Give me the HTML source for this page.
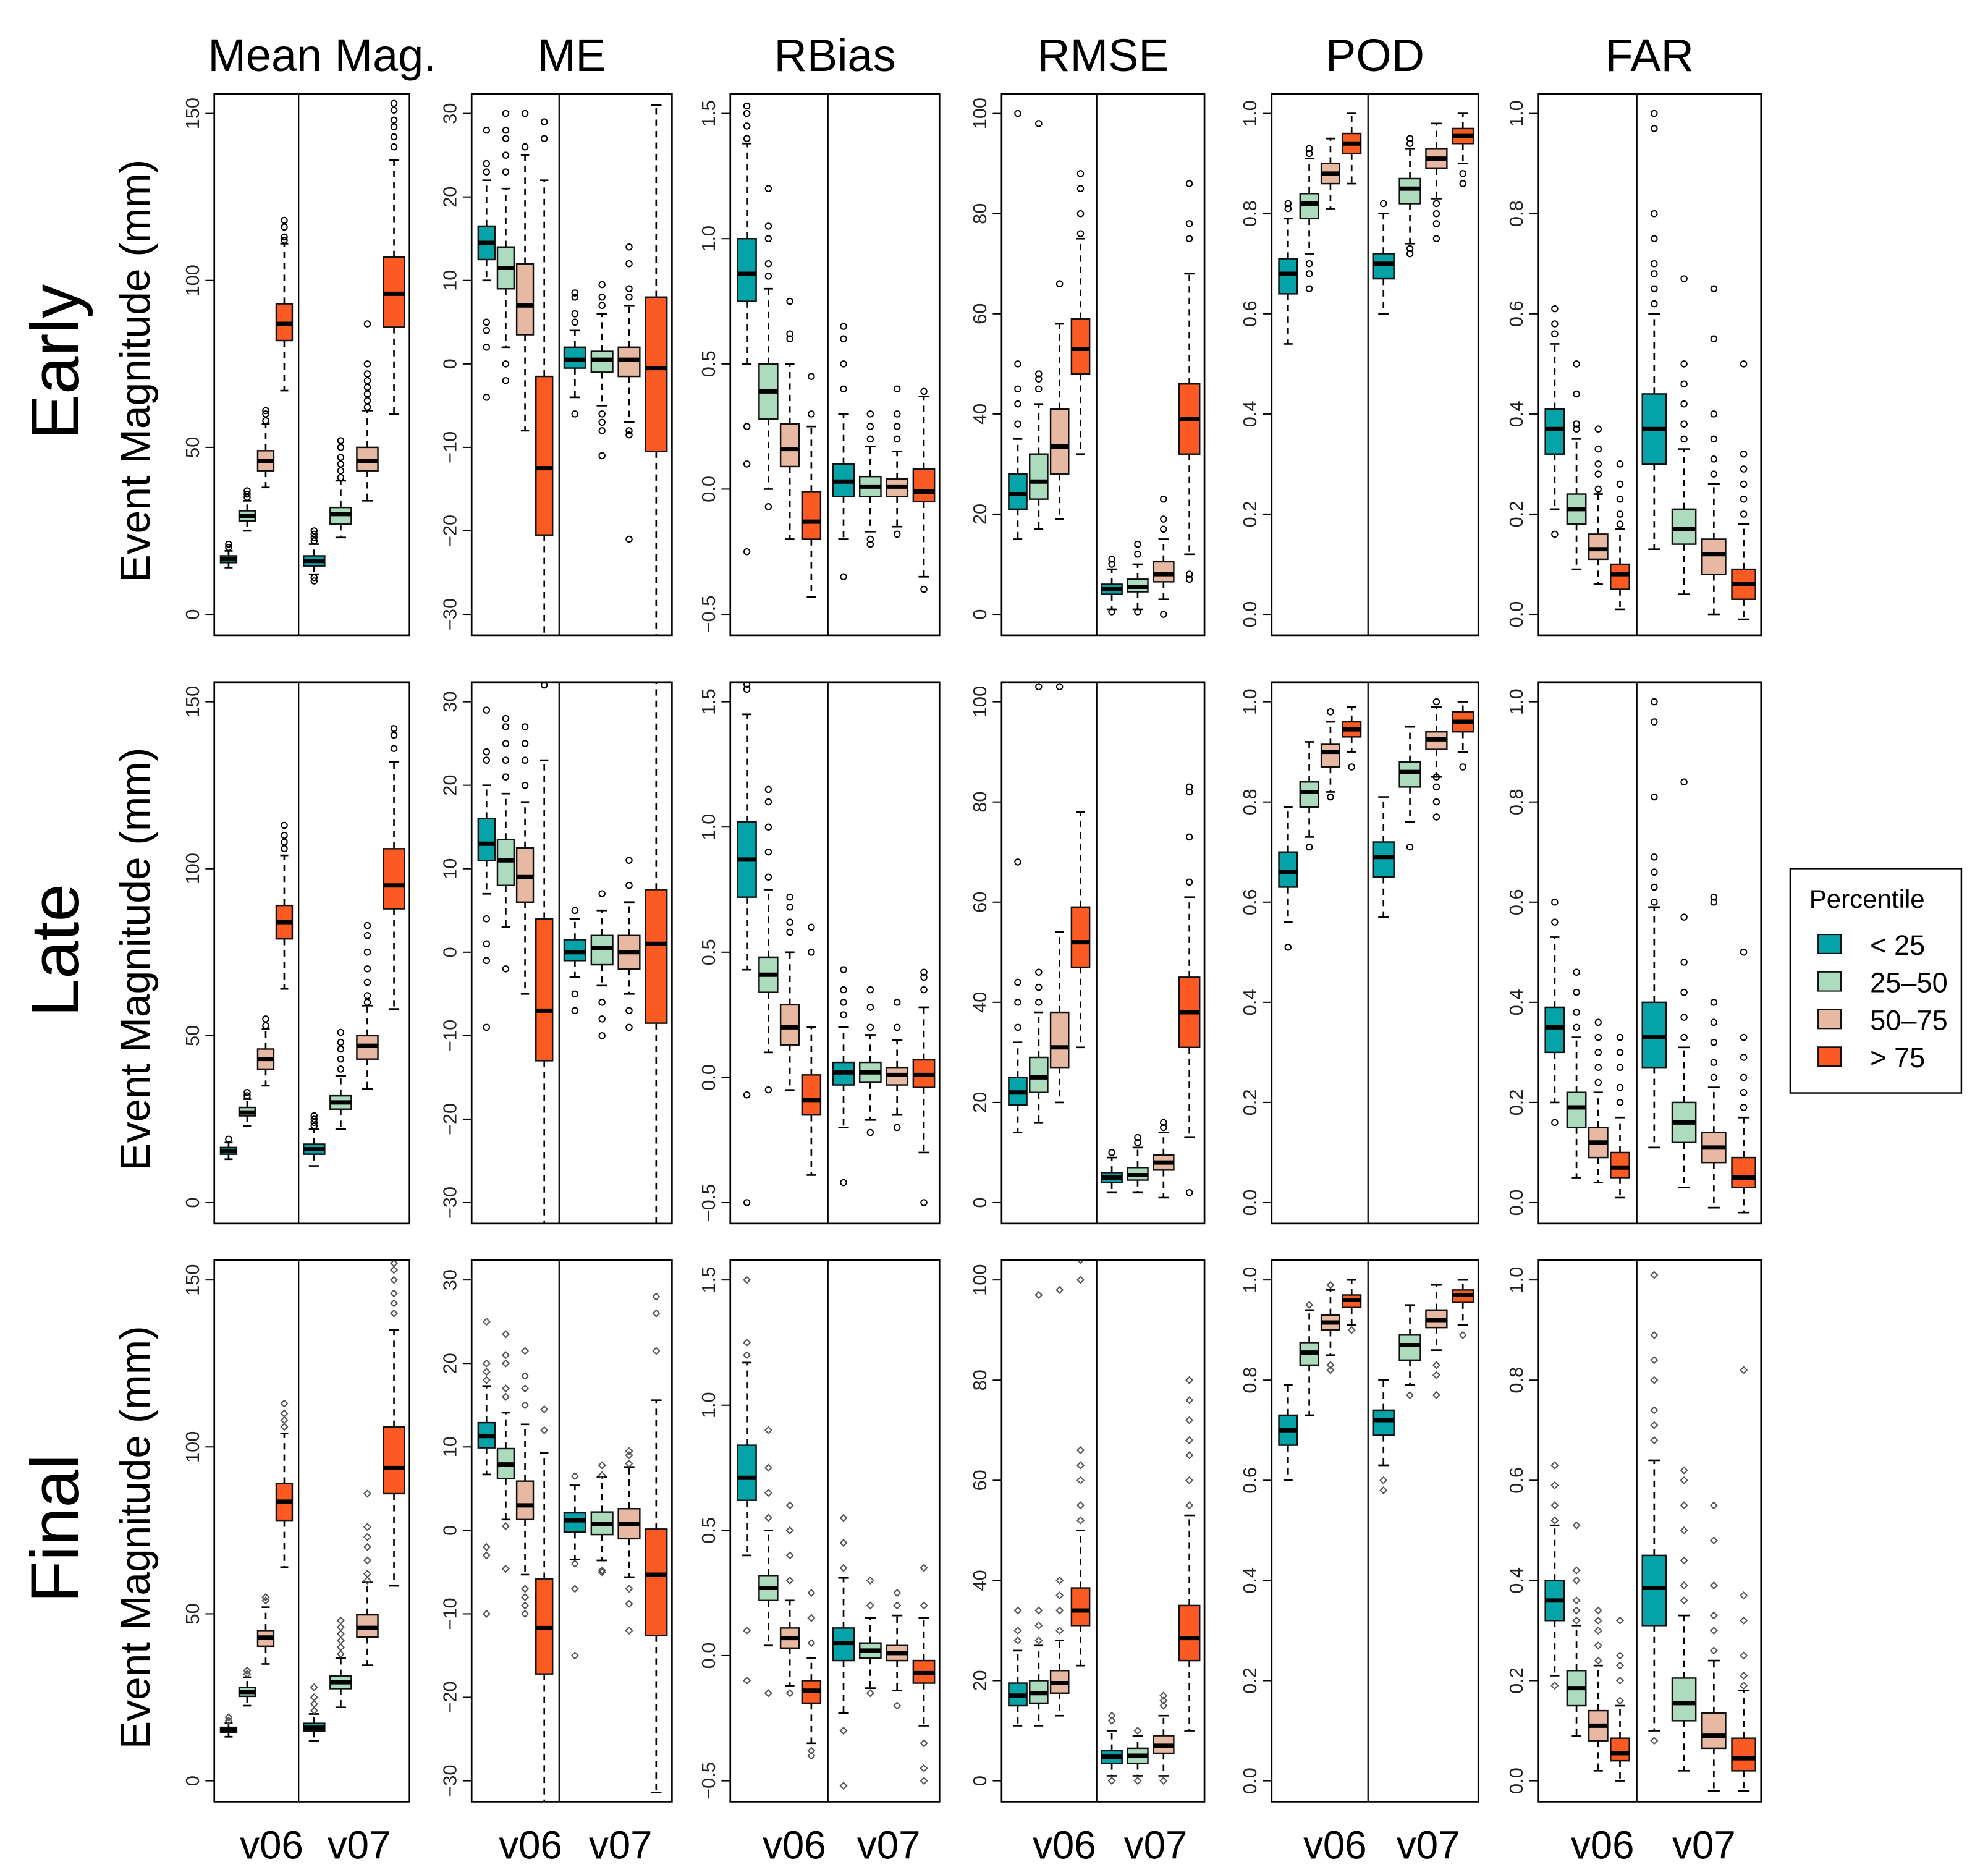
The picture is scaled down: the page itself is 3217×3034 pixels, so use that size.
<!DOCTYPE html>
<html><head><meta charset="utf-8">
<style>
html,body{margin:0;padding:0;background:#fff;}
svg{display:block;font-family:"Liberation Sans",Arial,sans-serif;}
</style></head>
<body>
<svg id="fig" xmlns="http://www.w3.org/2000/svg" width="3217" height="3034" viewBox="0 0 1568 1478.8" preserveAspectRatio="none"></svg>
<script>
// ---- data: [lowWhisker, q1, median, q3, highWhisker] per box (teal,green,peach,orange) x (v06,v07)
const categories = ["< 25","25\u201350","50\u201375","> 75"];
const versions = ["v06","v07"];
const metrics = ["Mean Mag.","ME","RBias","RMSE","POD","FAR"];
const rowsNames = ["Early","Late","Final"];
const tickMeanMag = [0,50,100,150];
const tickME = [-30,-20,-10,0,10,20,30];
const tickRBias = [-0.5,0,0.5,1,1.5];
const tickRMSE = [0,20,40,60,80,100];
const tickFrac = [0,0.2,0.4,0.6,0.8,1.0];

// Early
const earlyMeanMag = [[14,15.5,16.5,17.5,19],[25,28,29.5,31,34],[38,43,46,49,57],[67,82,87,93,111],[12,14.5,16,17.5,21],[23,27,30,32,40],[34,43,46,50,61],[60,86,96,107,136]];
const earlyMeanMagOut = [[20,21],[35,36,37],[58,60,61],[112,113,116,118],[10,11,22,23,24,25],[41,43,45,47,50,52],[62,64,66,68,70,72,75,87],[140,143,146,148,151,153]];
const earlyME = [[10,12.5,14.5,16.5,22],[2,9,11.5,14,21],[-8,3.5,7,12,25],[-35,-20.5,-12.5,-1.5,22],[-4,-0.5,0.5,2,4],[-5,-1,0.5,1.5,6],[-7,-1.5,0.5,2,7],[-35,-10.5,-0.5,8,31]];
const earlyMEOut = [[23,24,28,4,5,2,-4],[23,25,27,28,30,0,-2],[26,30],[27,29],[5,6,8,8.5,-6],[7,8,9.5,-6,-7,-8,-11],[8,9,12,14,-8,-8.5,-21],[]];
const earlyRBias = [[0.5,0.75,0.86,1.0,1.38],[0.0,0.28,0.39,0.5,0.8],[-0.2,0.09,0.16,0.26,0.5],[-0.43,-0.2,-0.13,-0.01,0.25],[-0.2,-0.03,0.03,0.1,0.3],[-0.17,-0.03,0.01,0.05,0.17],[-0.15,-0.03,0.01,0.04,0.15],[-0.35,-0.05,-0.01,0.08,0.37]];
const earlyRBiasOut = [[1.4,1.45,1.5,1.53,0.1,0.25,-0.25],[0.85,0.9,1.0,1.05,1.2,-0.07],[0.6,0.62,0.75],[0.3,0.45],[0.4,0.5,0.6,0.65,-0.35],[0.2,0.25,0.3,-0.2,-0.22],[0.2,0.25,0.3,0.4,-0.18],[0.39,-0.4]];
const earlyRMSE = [[15,21,24,28,35],[17,23,26.5,32,42],[19,28,33.5,41,58],[32,48,53,59,75],[1,4,5,6,9],[1,4.5,5.5,7,10],[3,6.5,8,10.5,15],[12,32,39,46,68]];
const earlyRMSEOut = [[38,42,45,50,100],[45,47,48,98],[66],[76,80,85,88],[10,11,0.5],[12,14,0.5],[17,19,23,0],[75,78,86,7,8]];
const earlyPOD = [[0.54,0.64,0.68,0.71,0.79],[0.72,0.79,0.82,0.84,0.91],[0.81,0.86,0.88,0.9,0.95],[0.86,0.92,0.94,0.96,1.0],[0.6,0.67,0.7,0.72,0.8],[0.74,0.82,0.85,0.87,0.93],[0.83,0.89,0.91,0.93,0.98],[0.9,0.94,0.955,0.97,1.0]];
const earlyPODOut = [[0.81,0.82],[0.65,0.68,0.7,0.92,0.93],[],[],[0.82],[0.94,0.95,0.73,0.72],[0.75,0.78,0.8,0.82],[0.86,0.88]];
const earlyFAR = [[0.21,0.32,0.37,0.41,0.54],[0.09,0.18,0.21,0.24,0.35],[0.06,0.11,0.13,0.16,0.24],[0.01,0.05,0.08,0.1,0.17],[0.13,0.3,0.37,0.44,0.6],[0.04,0.14,0.17,0.21,0.33],[0.0,0.08,0.12,0.15,0.26],[-0.01,0.03,0.06,0.09,0.18]];
const earlyFAROut = [[0.56,0.58,0.61,0.16],[0.37,0.38,0.44,0.5],[0.25,0.28,0.3,0.33,0.37],[0.18,0.2,0.23,0.26,0.3],[0.62,0.65,0.68,0.7,0.75,0.8,0.97,1.0],[0.35,0.38,0.42,0.46,0.5,0.67],[0.28,0.31,0.35,0.4,0.55,0.65],[0.2,0.23,0.26,0.29,0.32,0.5]];

// Late
const lateMeanMag = [[13,14.5,15.5,16.5,18],[23,26,27,28.5,31],[35,40,43,46,52],[64,79,84,89,104],[11,14.5,16,17.5,22],[22,28,30,32,38],[34,43,47,50,59],[58,88,95,106,132]];
const lateMeanMagOut = [[19],[32,33],[53,55],[106,108,110,113],[23,24,25,26],[40,43,46,48,51],[60,62,66,70,75,80,83],[136,140,142]];
const lateME = [[7,11,13,16,20],[3,8,11,13.5,19],[-5,6,9,12.5,18],[-35,-13,-7,4,23],[-3,-1,0,1.5,4],[-4,-1.5,0.5,2,5],[-5,-2,0,2,6],[-35,-8.5,1,7.5,33]];
const lateMEOut = [[23,24,29,4,1,-1,-9],[21,23,25,27,28,-2],[20,23,25,27],[32],[5,-5,-7],[7,-6,-8,-10],[8,11,-7,-9],[]];
const lateRBias = [[0.43,0.72,0.87,1.02,1.45],[0.1,0.34,0.41,0.48,0.75],[-0.05,0.13,0.2,0.29,0.5],[-0.39,-0.15,-0.09,0.01,0.2],[-0.2,-0.03,0.02,0.06,0.2],[-0.17,-0.02,0.02,0.06,0.17],[-0.15,-0.03,0.01,0.04,0.15],[-0.3,-0.04,0.01,0.07,0.28]];
const lateRBiasOut = [[1.55,1.57,-0.07,-0.5],[0.8,0.9,1.0,1.1,1.15,-0.05],[0.58,0.62,0.68,0.72],[0.5,0.6],[0.25,0.3,0.35,0.43,-0.42],[0.2,0.28,0.35,-0.22],[0.2,0.3,-0.2],[0.35,0.4,0.42,-0.5]];
const lateRMSE = [[14,19.5,22,25,32],[16,22,25,29,38],[20,27,31,38,54],[31,47,52,59,78],[2,4,5,6,9],[2,4.5,5.5,7,11],[1,6.5,8,9.5,14],[13,31,38,45,61]];
const lateRMSEOut = [[35,40,44,68],[40,43,46,103],[103],[],[10],[12,13],[15,16],[64,73,82,83,2]];
const latePOD = [[0.56,0.63,0.66,0.7,0.79],[0.73,0.79,0.82,0.84,0.92],[0.82,0.87,0.9,0.915,0.96],[0.9,0.93,0.945,0.96,0.99],[0.57,0.65,0.69,0.72,0.81],[0.76,0.83,0.86,0.88,0.95],[0.85,0.905,0.925,0.94,0.99],[0.9,0.94,0.96,0.98,1.0]];
const latePODOut = [[0.51],[0.71],[0.98,0.81],[0.87],[],[0.71],[0.77,0.8,0.83,0.85,1.0],[0.87]];
const lateFAR = [[0.2,0.3,0.35,0.39,0.53],[0.05,0.15,0.19,0.22,0.33],[0.04,0.09,0.12,0.15,0.22],[0.01,0.05,0.07,0.1,0.17],[0.11,0.27,0.33,0.4,0.59],[0.03,0.12,0.16,0.2,0.31],[-0.01,0.08,0.11,0.14,0.23],[-0.02,0.03,0.05,0.09,0.17]];
const lateFAROut = [[0.56,0.6,0.16],[0.35,0.38,0.42,0.46],[0.24,0.27,0.3,0.33,0.36],[0.2,0.23,0.27,0.3,0.33],[0.6,0.63,0.66,0.69,0.81,0.96,1.0],[0.33,0.37,0.42,0.48,0.57,0.84],[0.25,0.28,0.32,0.36,0.4,0.6,0.61],[0.19,0.22,0.25,0.29,0.33,0.5]];

// Final
const finalMeanMag = [[13.2,14.5,15.3,16,17.3],[22.5,25.3,26.6,28,31],[35,40.3,42.9,45,52],[64,78,83.6,89,104],[12,14.9,15.9,17.2,20],[22,27.6,29.5,31.4,36.8],[34.6,43,45.8,49.7,59.4],[58.4,86,93.7,106,135]];
const finalMeanMagOut = [[18,19],[32,33],[54,55],[106,108,110,113],[21,23,25,28],[38,40,42,44,46,48],[60,62,66,70,73,76,86],[140,143,146,150,153,155]];
const finalME = [[6.7,9.9,11.3,12.9,17.3],[1.3,6.2,7.9,9.8,14.1],[-5.3,1.3,3,5.9,12.7],[-35,-17.2,-11.7,-5.8,9.3],[-3.5,-0.2,1.2,2.1,5.4],[-3.6,-0.5,0.8,2.2,6.4],[-5.6,-1,0.8,2.6,7.6],[-31.4,-12.6,-5.3,0.15,15.6]];
const finalMEOut = [[18,19,20,25,-2,-3,-10],[16,17,20,21,23.5,0.5,-4.6],[15,17,18.5,21.5,-7,-8,-9,-10],[12,14.5],[6.5,-4,-7,-15],[6.6,7.8,-4.8,-5],[8,9,9.5,-7,-8.8,-12],[21.5,26,28]];
const finalRBias = [[0.4,0.62,0.71,0.84,1.17],[0.04,0.22,0.27,0.32,0.5],[-0.12,0.03,0.07,0.11,0.22],[-0.35,-0.19,-0.14,-0.1,-0.01],[-0.23,-0.02,0.05,0.11,0.31],[-0.13,-0.01,0.02,0.05,0.15],[-0.14,-0.02,0.01,0.04,0.16],[-0.28,-0.11,-0.07,-0.02,0.15]];
const finalRBiasOut = [[1.2,1.25,1.5,0.1,-0.1],[0.55,0.65,0.75,0.9,-0.15],[0.3,0.4,0.5,0.6,-0.15],[0.05,0.15,0.25,-0.38,-0.4],[0.35,0.45,0.55,-0.3,-0.52],[0.2,0.3,-0.15],[0.2,0.25,-0.2],[0.2,0.35,-0.35,-0.45,-0.5]];
const finalRMSE = [[11,15,17,19.5,26],[11,15.5,17.5,20,27],[13,17.5,19.5,22,28],[23,31,34,38.5,50],[1,3.5,4.8,6,10],[1,3.5,5,6.5,9],[1,5.5,7,9,13],[10,24,28.5,35,53]];
const finalRMSEOut = [[28,30,34],[28,31,34,97],[30,34,37,40,98],[52,55,60,63,66,100,104],[12,13,0],[10,0],[15,16,17,0],[55,60,65,68,72,76,80]];
const finalPOD = [[0.6,0.67,0.7,0.73,0.79],[0.73,0.83,0.855,0.875,0.94],[0.85,0.9,0.915,0.93,0.98],[0.91,0.945,0.96,0.97,1.0],[0.63,0.69,0.72,0.74,0.8],[0.79,0.84,0.87,0.89,0.95],[0.86,0.905,0.92,0.94,0.99],[0.91,0.955,0.97,0.98,1.0]];
const finalPODOut = [[],[0.95],[0.99,0.82,0.83],[0.9],[0.6,0.58],[0.77],[0.83,0.81,0.77],[0.89]];
const finalFAR = [[0.21,0.32,0.36,0.4,0.51],[0.09,0.15,0.185,0.22,0.31],[0.02,0.08,0.11,0.14,0.23],[0.0,0.04,0.055,0.085,0.15],[0.1,0.31,0.385,0.45,0.64],[0.02,0.12,0.155,0.205,0.33],[-0.02,0.065,0.09,0.135,0.24],[-0.02,0.02,0.045,0.085,0.18]];
const finalFAROut = [[0.52,0.55,0.59,0.63,0.19],[0.32,0.34,0.36,0.4,0.42,0.51],[0.24,0.27,0.3,0.32,0.34],[0.16,0.2,0.23,0.25,0.32],[0.68,0.71,0.74,0.8,0.84,0.89,1.01,0.08],[0.36,0.39,0.44,0.5,0.55,0.6,0.62],[0.26,0.3,0.33,0.39,0.48,0.55],[0.19,0.21,0.25,0.32,0.37,0.82]];

const fills = ["#04a3a7","#acdbbd","#e8b9a2","#fb5b22"];
const NS = "http://www.w3.org/2000/svg";
const svg = document.getElementById("fig");
function mk(tag, attrs, parent){ const e=document.createElementNS(NS,tag); for(const k in attrs) e.setAttribute(k,attrs[k]); (parent||svg).appendChild(e); return e; }

const colsX = [[169,235.5,323],[372,441,530],[576,653,741],[790,865,950],[1003,1079,1166],[1213,1291,1389]];
const rowsT = [74,538,994];
const PH = 427;
const ticks = [tickMeanMag,tickME,tickRBias,tickRMSE,tickFrac,tickFrac];
const tickFmt = [v=>String(v), v=>(v<0?"\u2212"+(-v):String(v)), v=>(v<0?"\u2212":"")+Math.abs(v).toFixed(1), v=>String(v), v=>v.toFixed(1), v=>v.toFixed(1)];
const data = [
 [earlyMeanMag,earlyME,earlyRBias,earlyRMSE,earlyPOD,earlyFAR],
 [lateMeanMag,lateME,lateRBias,lateRMSE,latePOD,lateFAR],
 [finalMeanMag,finalME,finalRBias,finalRMSE,finalPOD,finalFAR]];
const outs = [
 [earlyMeanMagOut,earlyMEOut,earlyRBiasOut,earlyRMSEOut,earlyPODOut,earlyFAROut],
 [lateMeanMagOut,lateMEOut,lateRBiasOut,lateRMSEOut,latePODOut,lateFAROut],
 [finalMeanMagOut,finalMEOut,finalRBiasOut,finalRMSEOut,finalPODOut,finalFAROut]];

// column titles
metrics.forEach((m,c)=>{
  const [L,D,R]=colsX[c];
  const t=mk("text",{x:(L+R)/2+(c===0?8:0),y:56,"font-size":36,"text-anchor":"middle",fill:"#000"});
  
  
  t.textContent=m;
});
// row labels and y titles
rowsNames.forEach((r,ri)=>{
  const T=rowsT[ri], cy=T+PH/2;
  const t=mk("text",{x:0,y:0,"font-size":54,"text-anchor":"middle",transform:`translate(62,${cy-2}) rotate(-90)`,fill:"#000"});
  
  
  t.textContent=r;
  const y=mk("text",{x:0,y:0,"font-size":33,"text-anchor":"middle",transform:`translate(118,${cy+5}) rotate(-90)`,fill:"#000"});
  
  
  y.textContent="Event Magnitude (mm)";
});

rowsT.forEach((T,ri)=>{
  colsX.forEach(([L,D,R],c)=>{
    const tk=ticks[c], vmin=tk[0], vmax=tk[tk.length-1];
    const yTop=T+15.5, yBot=T+410.5;
    const Y=v=>yTop+(vmax-v)/(vmax-vmin)*(yBot-yTop);
    const g=mk("g",{});
    
    
    const cid="clip"+ri+"_"+c;
    const cp=mk("clipPath",{id:cid},g); mk("rect",{x:L,y:T,width:R-L,height:PH},cp);
    // ticks
    tk.forEach(v=>{
      const y=Y(v);
      const tl=mk("line",{x1:L-7,x2:L,y1:y,y2:y,stroke:"#000","stroke-width":1},g);
      
      
      const tt=mk("text",{x:0,y:0,"font-size":15,"text-anchor":"middle",fill:"#222",transform:`translate(${L-12},${y}) rotate(-90)`},g);
      
      
      tt.textContent=tickFmt[c](v);
    });
    const inner=mk("g",{"clip-path":`url(#${cid})`},g);
    const boxes=data[ri][c], ol=outs[ri][c];
    boxes.forEach((b,i)=>{
      const grp=i<4?0:1, k=i%4;
      const cx= grp===0 ? L+(D-L)*(0.17+0.22*k) : D+(R-D)*(0.14+0.24*k);
      const w= grp===0 ? (D-L)*0.19 : (R-D)*0.19;
      const [lo,q1,md,q3,hi]=b;
      const bg=mk("g",{},inner);
      
      
      mk("line",{x1:cx,x2:cx,y1:Y(q3),y2:Y(hi),stroke:"#000","stroke-width":1.3,"stroke-dasharray":"5,4"},bg);
      mk("line",{x1:cx,x2:cx,y1:Y(q1),y2:Y(lo),stroke:"#000","stroke-width":1.3,"stroke-dasharray":"5,4"},bg);
      mk("line",{x1:cx-w/4,x2:cx+w/4,y1:Y(hi),y2:Y(hi),stroke:"#000","stroke-width":1.3},bg);
      mk("line",{x1:cx-w/4,x2:cx+w/4,y1:Y(lo),y2:Y(lo),stroke:"#000","stroke-width":1.3},bg);
      mk("rect",{x:cx-w/2,y:Y(q3),width:w,height:Math.max(1,Y(q1)-Y(q3)),fill:fills[k],stroke:"#111","stroke-width":1.2},bg);
      mk("line",{x1:cx-w/2,x2:cx+w/2,y1:Y(md),y2:Y(md),stroke:"#000","stroke-width":3.4},bg);
      (ol[i]||[]).forEach(v=>{
        if(ri<2){ const o=mk("circle",{cx:cx,cy:Y(v),r:2.3,fill:"none",stroke:"#000","stroke-width":1},bg);
          
          
        } else { const y=Y(v); const o=mk("path",{d:`M${cx} ${y-2.5}L${cx+2.5} ${y}L${cx} ${y+2.5}L${cx-2.5} ${y}Z`,fill:"none",stroke:"#555","stroke-width":1},bg);
          
          
        }
      });
    });
    mk("line",{x1:D,x2:D,y1:T,y2:T+PH,stroke:"#000","stroke-width":1.1},g);
    const fr=mk("rect",{x:L,y:T,width:R-L,height:PH,fill:"none",stroke:"#000","stroke-width":1.3},g);
    
    
  });
});
// x labels
colsX.forEach(([L,D,R])=>{
  [[(L+D)/2+12,"v06"],[(D+R)/2+4,"v07"]].forEach(([x,s])=>{
    const t=mk("text",{x:x,y:1466,"font-size":31,"text-anchor":"middle",fill:"#000"});
    
    
    t.textContent=s;
  });
});
// legend
const lg=mk("g",{});


mk("rect",{x:1412,y:685,width:135,height:177,fill:"#fff",stroke:"#000","stroke-width":1.2},lg);
const lt=mk("text",{x:1427,y:716,"font-size":20.5,fill:"#000"},lg);


lt.textContent="Percentile";
categories.forEach((c,i)=>{
  const y=737+i*29.6;
  const sw=mk("rect",{x:1434,y:y,width:18,height:15,fill:fills[i],stroke:"#111","stroke-width":1},lg);
  
  
  const t=mk("text",{x:1475,y:y+16,"font-size":22,fill:"#000"},lg);
  
  
  t.textContent=c;
});
</script>
</body></html>
